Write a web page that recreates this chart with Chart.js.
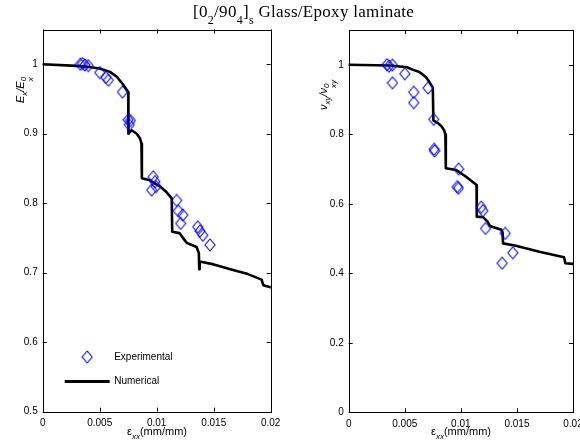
<!DOCTYPE html>
<html><head><meta charset="utf-8">
<script src="https://cdn.jsdelivr.net/npm/chart.js@4/dist/chart.umd.min.js"></script>
<style>
html,body{margin:0;padding:0;background:#fff}
body{width:580px;height:445px;overflow:hidden;position:relative;font-family:'Liberation Sans',Arial,sans-serif;color:#000}
canvas{position:absolute;top:0}
.t{position:absolute;white-space:nowrap;line-height:1;color:#000}
.title{left:193px;top:3px;font-family:'Liberation Serif','Times New Roman',serif;font-size:17px;letter-spacing:0.3px}
.title .s{position:relative;top:7px;font-size:12px}
.ylab{font-size:11px;font-style:italic;transform:translate(-50%,-50%) rotate(-90deg)}
.ylab sub{font-size:8px;vertical-align:-3px}
.stk{display:inline-flex;flex-direction:column;font-size:8px;line-height:0.85;vertical-align:-2px}
.xlab{font-size:11px;transform:translateX(-50%)}
.xlab sub{font-size:8px;font-style:italic;vertical-align:-4px}
</style></head>
<body>
<canvas id="c1" width="290" height="445" style="left:0;width:290px;height:445px"></canvas>
<canvas id="c2" width="290" height="445" style="left:290px;width:290px;height:445px"></canvas>
<div class="t title">[0<span class="s">2</span>/90<span class="s">4</span>]<span class="s">s</span> Glass/Epoxy laminate</div>
<div class="t ylab" style="left:25px;top:90px">E<sub>x</sub>/E<span class="stk"><span>0</span><span>x</span></span></div>
<div class="t ylab" style="left:328px;top:95px">&nu;<sub>xy</sub>/&nu;<span class="stk"><span>0</span><span>xy</span></span></div>
<div class="t xlab" style="left:157px;top:426px">&epsilon;<sub>xx</sub>(mm/mm)</div>
<div class="t xlab" style="left:461px;top:426px">&epsilon;<sub>xx</sub>(mm/mm)</div>
<script>
// ---------- data ----------
const xTicks = [0, 0.005, 0.01, 0.015, 0.02];
const xTickLabels = ['0', '0.005', '0.01', '0.015', '0.02'];
const leftYTicks = [0.5, 0.6, 0.7, 0.8, 0.9, 1];
const leftYTickLabels = ['0.5', '0.6', '0.7', '0.8', '0.9', '1'];
const rightYTicks = [0, 0.2, 0.4, 0.6, 0.8, 1];
const rightYTickLabels = ['0', '0.2', '0.4', '0.6', '0.8', '1'];

// Left: E_x / E_x^0
const numStrainE = [0, 0.0025, 0.0036, 0.005, 0.0059, 0.0065, 0.0070, 0.0075, 0.00752, 0.0078, 0.00825, 0.00854, 0.00866, 0.00870, 0.0094, 0.0103, 0.0108, 0.01132, 0.01136, 0.0120, 0.0124, 0.01263, 0.0135, 0.01370, 0.01373, 0.01377, 0.0150, 0.0167, 0.0180, 0.0192, 0.01935, 0.0200];
const numModE   = [1.0, 0.998, 0.997, 0.994, 0.989, 0.982, 0.972, 0.960, 0.900, 0.905, 0.900, 0.893, 0.886, 0.836, 0.833, 0.824, 0.817, 0.807, 0.759, 0.757, 0.748, 0.743, 0.737, 0.728, 0.705, 0.716, 0.712, 0.704, 0.698, 0.690, 0.682, 0.679];
const expStrainE = [0.0033, 0.0035, 0.0037, 0.0040, 0.0050, 0.00555, 0.00576, 0.0070, 0.0075, 0.0077, 0.0076, 0.0097, 0.00985, 0.00994, 0.00956, 0.01175, 0.0119, 0.01228, 0.0121, 0.0136, 0.0138, 0.01404, 0.01468];
const expModE    = [1.0, 1.001, 0.999, 0.998, 0.988, 0.981, 0.977, 0.960, 0.920, 0.919, 0.913, 0.838, 0.831, 0.824, 0.819, 0.804, 0.789, 0.783, 0.771, 0.766, 0.760, 0.754, 0.740];

// Right: nu_xy / nu_xy^0
const numStrainNu = [0, 0.0037, 0.0052, 0.0057, 0.0063, 0.0069, 0.0071, 0.0075, 0.00755, 0.0080, 0.0083, 0.0085, 0.00862, 0.00866, 0.0096, 0.0105, 0.0114, 0.01142, 0.0120, 0.0124, 0.0126, 0.0136, 0.01372, 0.01376, 0.0149, 0.0170, 0.0192, 0.01932, 0.0200];
const numNu       = [1.0, 0.998, 0.993, 0.986, 0.979, 0.964, 0.955, 0.934, 0.840, 0.831, 0.822, 0.812, 0.800, 0.702, 0.697, 0.677, 0.654, 0.563, 0.561, 0.548, 0.536, 0.525, 0.518, 0.486, 0.479, 0.462, 0.446, 0.429, 0.427];
const expStrainNu = [0.0034, 0.0036, 0.0039, 0.0039, 0.0050, 0.0058, 0.0058, 0.00708, 0.00758, 0.00762, 0.00766, 0.0098, 0.00969, 0.00978, 0.01182, 0.01196, 0.0122, 0.01396, 0.01369, 0.01463];
const expNu       = [1.0, 0.996, 0.999, 0.948, 0.974, 0.921, 0.891, 0.933, 0.843, 0.757, 0.752, 0.700, 0.649, 0.645, 0.590, 0.580, 0.529, 0.515, 0.429, 0.459];

// ---------- helpers ----------
function pts(xs, ys){ return xs.map((x,i)=>({x:x, y:ys[i]})); }

function diamondImage(){
  const c = document.createElement('canvas');
  c.width = 12; c.height = 14;
  const g = c.getContext('2d');
  g.strokeStyle = '#0000ff'; g.lineWidth = 1.1;
  g.beginPath();
  g.moveTo(6, 1); g.lineTo(11, 7); g.lineTo(6, 13); g.lineTo(1, 7); g.closePath();
  g.stroke();
  return c;
}
const diamond = diamondImage();

const FONT = {family: "'Liberation Sans', Arial, sans-serif", size: 10};

const boxPlugin = {
  id: 'boxTicks',
  afterDraw(chart, args, opts){
    const ctx = chart.ctx, a = chart.chartArea;
    const xs = chart.scales.x, ys = chart.scales.y;
    ctx.save();
    ctx.strokeStyle = '#000'; ctx.lineWidth = 1;
    ctx.strokeRect(Math.round(a.left)+0.5, Math.round(a.top)+0.5, Math.round(a.right-a.left), Math.round(a.bottom-a.top));
    const L = 4;
    ctx.beginPath();
    xTicks.forEach(v=>{
      const px = Math.round(xs.getPixelForValue(v))+0.5;
      ctx.moveTo(px, a.bottom); ctx.lineTo(px, a.bottom - L);
      ctx.moveTo(px, a.top); ctx.lineTo(px, a.top + L);
    });
    opts.yTicks.forEach(v=>{
      const py = Math.round(ys.getPixelForValue(v))+0.5;
      ctx.moveTo(a.left, py); ctx.lineTo(a.left + L, py);
      ctx.moveTo(a.right, py); ctx.lineTo(a.right - L, py);
    });
    ctx.stroke();
    if (opts.legend){
      const lx = a.left, ly = a.top;
      ctx.drawImage(diamond, lx + 44.5 - 6, ly + 327.5 - 7);
      ctx.strokeStyle = '#000'; ctx.lineWidth = 3;
      ctx.beginPath(); ctx.moveTo(lx + 22, ly + 352); ctx.lineTo(lx + 67, ly + 352); ctx.stroke();
      ctx.fillStyle = '#000';
      ctx.font = "10px 'Liberation Sans', Arial, sans-serif";
      ctx.textBaseline = 'middle'; ctx.textAlign = 'left';
      ctx.fillText('Experimental', lx + 71.5, ly + 328);
      ctx.fillText('Numerical', lx + 71.5, ly + 352);
    }
    ctx.restore();
  }
};

function makeChart(id, cfg){
  return new Chart(document.getElementById(id), {
    type: 'scatter',
    data: {
      datasets: [
        {label: 'Experimental', data: cfg.exp, showLine: false, pointStyle: diamond, pointRadius: 6, pointHoverRadius: 6, borderColor: '#0000ff'},
        {label: 'Numerical', data: cfg.num, showLine: true, borderColor: '#000', borderWidth: 2.6, pointRadius: 0, fill: false, tension: 0, borderJoinStyle: 'round', borderCapStyle: 'round'}
      ]
    },
    options: {
      responsive: false, animation: false, devicePixelRatio: 1,
      events: [],
      layout: {padding: {left: 0, right: cfg.padRight, top: cfg.padTop, bottom: 0}},
      plugins: {legend: {display: false}, tooltip: {enabled: false}, boxTicks: {yTicks: cfg.yTicks, legend: cfg.legend}},
      scales: {
        x: {
          type: 'linear', min: 0, max: 0.02,
          grid: {display: false, drawTicks: false},
          border: {display: false},
          afterBuildTicks: s => { s.ticks = xTicks.map(v=>({value: v})); },
          ticks: {font: FONT, color: '#000', padding: 6, maxRotation: 0, autoSkip: false,
                  callback: (v) => xTickLabels[xTicks.indexOf(v)] ?? ''},
          afterFit: s => { s.height = cfg.xH; s.paddingLeft = 0; s.paddingRight = 0; }
        },
        y: {
          type: 'linear', min: cfg.yMin, max: cfg.yMax,
          grid: {display: false, drawTicks: false},
          border: {display: false},
          afterBuildTicks: s => { s.ticks = cfg.yTicks.map(v=>({value: v})); },
          ticks: {font: FONT, color: '#000', padding: 5, autoSkip: false,
                  callback: (v) => { const i = cfg.yTicks.findIndex(t=>Math.abs(t-v)<1e-9); return i>=0 ? cfg.yLabels[i] : ''; }},
          afterFit: s => { s.width = cfg.yW; s.paddingTop = 0; s.paddingBottom = 0; }
        }
      }
    },
    plugins: [boxPlugin]
  });
}

makeChart('c1', {
  exp: pts(expStrainE, expModE), num: pts(numStrainE, numModE),
  yMin: 0.5, yMax: 1.05, yTicks: leftYTicks, yLabels: leftYTickLabels,
  yW: 42.7, xH: 33.3, padRight: 19.3, padTop: 29.5, legend: true
});
makeChart('c2', {
  exp: pts(expStrainNu, expNu), num: pts(numStrainNu, numNu),
  yMin: 0, yMax: 1.1, yTicks: rightYTicks, yLabels: rightYTickLabels,
  yW: 58.7, xH: 32.7, padRight: 6.5, padTop: 30, legend: false
});
</script>
</body></html>
